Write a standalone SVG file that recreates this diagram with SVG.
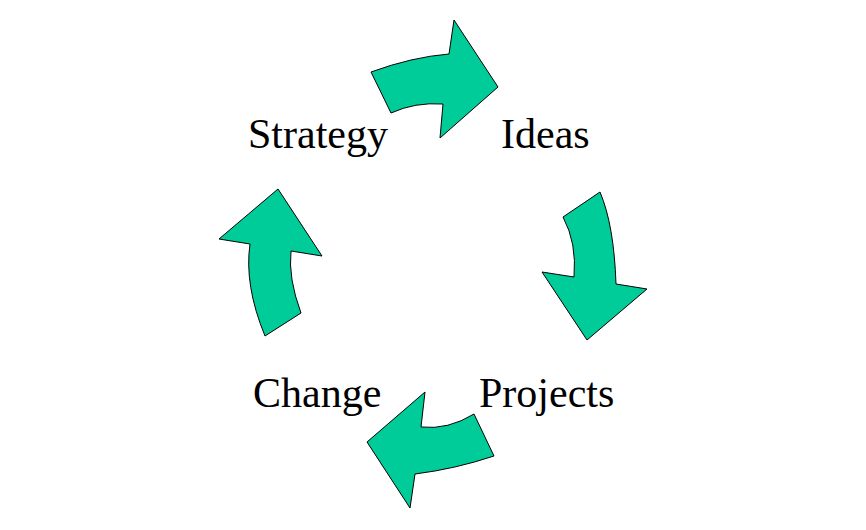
<svg xmlns="http://www.w3.org/2000/svg" width="866" height="530" viewBox="0 0 866 530">
<style>
.arrow{fill:#00CC99;stroke:#000;stroke-width:1;stroke-linejoin:miter}
.lbl{font-family:"Liberation Serif","Times New Roman",serif;font-size:42px;fill:#000}
</style>
<rect width="866" height="530" fill="#fff"/>
<g id="connectors">
<path id="arrow-strategy-ideas" class="arrow" d="M371,72 Q412,57 449,54 L454,20 L498,87 L440,138 L443,104 Q415,102 391,113 Z"/>
<path id="arrow-ideas-projects" class="arrow" d="M563,217 L600,192 Q614,225 616,284 L647,289 L587,340 L542,272 L574,277 Q577,243 563,217 Z"/>
<path id="arrow-projects-change" class="arrow" d="M474,414 L494,456 Q455,469 415,474 L410,508 L367,442 L425,392 L421,427 Q448,430 474,414 Z"/>
<path id="arrow-change-strategy" class="arrow" d="M265,336 L301,313 Q288,278 291,251 L322,256 L278,189 L219,239 L250,244 Q244,285 265,336 Z"/>
</g>
<g id="node-strategy"><text class="lbl" x="248" y="148">Strategy</text></g>
<g id="node-ideas"><text class="lbl" x="501" y="148">Ideas</text></g>
<g id="node-change"><text class="lbl" x="253" y="407">Change</text></g>
<g id="node-projects"><text class="lbl" x="479" y="407">Projects</text></g>
</svg>
